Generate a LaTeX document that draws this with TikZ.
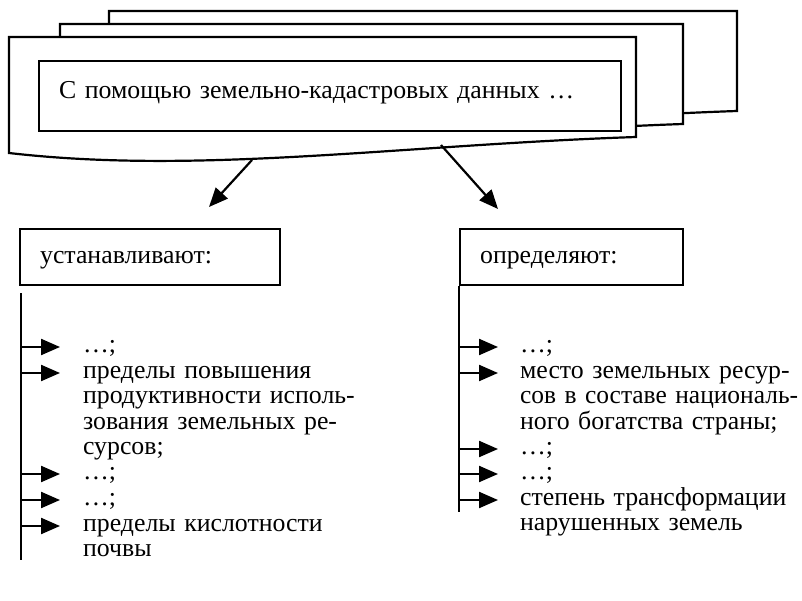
\documentclass[tikz,border=0pt]{standalone}
\usepackage{fontspec}
\setmainfont{Liberation Serif}
\usetikzlibrary{arrows.meta}
\usetikzlibrary{positioning}
\newcommand{\gestaucht}[2]{\resizebox{#1}{\height}{#2}}

\begin{document}
\begin{tikzpicture}[x=1pt, y=-1pt, line width=2.2pt,
		every node/.style={font=\fontsize{25.8}{25.5}\selectfont, inner sep=0pt},
		blatt/.style={draw, fill=white},
		kasten/.style={rectangle, draw, anchor=north west, inner xsep=20pt, text height=34pt, text depth=22pt},
		punkt/.style={anchor=base west, text width=340pt, align=left},
		pfeil/.style={-{Triangle[length=19pt, width=16pt]}}]
		\useasboundingbox (0,0) rectangle (802,601);
		%Stapel mit drei Blättern
		\draw [blatt] (109,127) -- (109,11) -- (737,11) -- (737,111) .. controls (500,119) and (300,149) .. (109,127) -- cycle;
		\draw [blatt] (60,140) -- (60,24) -- (683,24) -- (683,124) .. controls (450,132) and (250,162) .. (60,140) -- cycle;
		\draw [blatt] (9,153) -- (9,37) -- (636,37) -- (636,137) .. controls (400,145) and (200,175) .. (9,153) -- cycle;
		\node (daten) [draw, anchor=north west, inner xsep=20pt, text width=542pt, text height=37pt, text depth=33pt] at (38,60) {С помощью земельно-кадастровых данных …};
		\coordinate (abzweigL) at (252,160);
		\coordinate (zielL) at (209,207);
		\draw [pfeil] (abzweigL) -- (zielL);
		\coordinate (abzweigR) at (441,145);
		\coordinate (zielR) at (498,209);
		\draw [pfeil] (abzweigR) -- (zielR);
		%linke Spalte
		\node (festL) [kasten, text width=220pt] at (19,228) {устанавливают:};
		\coordinate (stammL) at (21,293);
		\coordinate (stammLunten) at (21,560);
		\draw (stammL) -- (stammLunten);
		\coordinate (spitzeL1) at (60,347);
		\coordinate (spitzeL2) at (60,373);
		\coordinate (spitzeL3) at (60,474);
		\coordinate (spitzeL4) at (60,500);
		\coordinate (spitzeL5) at (60,526);
		\node (punktL1) [punkt] at ([shift={(22,5)}]spitzeL1) {…;};
		\node (punktL2) [punkt] at ([shift={(22,5)}]spitzeL2) {пределы повышения\\продуктивности исполь-\\зования земельных ре-\\сурсов;};
		\node (punktL3) [punkt] at ([shift={(22,5)}]spitzeL3) {…;};
		\node (punktL4) [punkt] at ([shift={(22,5)}]spitzeL4) {…;};
		\node (punktL5) [punkt] at ([shift={(22,5)}]spitzeL5) {пределы кислотности\\почвы};
		\draw [pfeil] (spitzeL1 -| stammL) -- (spitzeL1);
		\draw [pfeil] (spitzeL2 -| stammL) -- (spitzeL2);
		\draw [pfeil] (spitzeL3 -| stammL) -- (spitzeL3);
		\draw [pfeil] (spitzeL4 -| stammL) -- (spitzeL4);
		\draw [pfeil] (spitzeL5 -| stammL) -- (spitzeL5);
		%rechte Spalte
		\node (bestR) [kasten, text width=183pt] at (459,228) {определяют:};
		\coordinate (stammRunten) at (459,512);
		\draw (bestR.south west) -- (stammRunten);
		\coordinate (spitzeR1) at (498,347);
		\coordinate (spitzeR2) at (498,373);
		\coordinate (spitzeR3) at (498,449);
		\coordinate (spitzeR4) at (498,474);
		\coordinate (spitzeR5) at (498,500);
		\node (punktR1) [punkt] at ([shift={(21,5)}]spitzeR1) {…;};
		\node (punktR2) [punkt] at ([shift={(21,5)}]spitzeR2) {место земельных ресур-\\\gestaucht{278pt}{сов в составе националь-}\\ного богатства страны;};
		\node (punktR3) [punkt] at ([shift={(21,5)}]spitzeR3) {…;};
		\node (punktR4) [punkt] at ([shift={(21,5)}]spitzeR4) {…;};
		\node (punktR5) [punkt] at ([shift={(21,5)}]spitzeR5) {степень трансформации\\нарушенных земель};
		\draw [pfeil] (spitzeR1 -| bestR.west) -- (spitzeR1);
		\draw [pfeil] (spitzeR2 -| bestR.west) -- (spitzeR2);
		\draw [pfeil] (spitzeR3 -| bestR.west) -- (spitzeR3);
		\draw [pfeil] (spitzeR4 -| bestR.west) -- (spitzeR4);
		\draw [pfeil] (spitzeR5 -| bestR.west) -- (spitzeR5);
	\end{tikzpicture}
\end{document}
